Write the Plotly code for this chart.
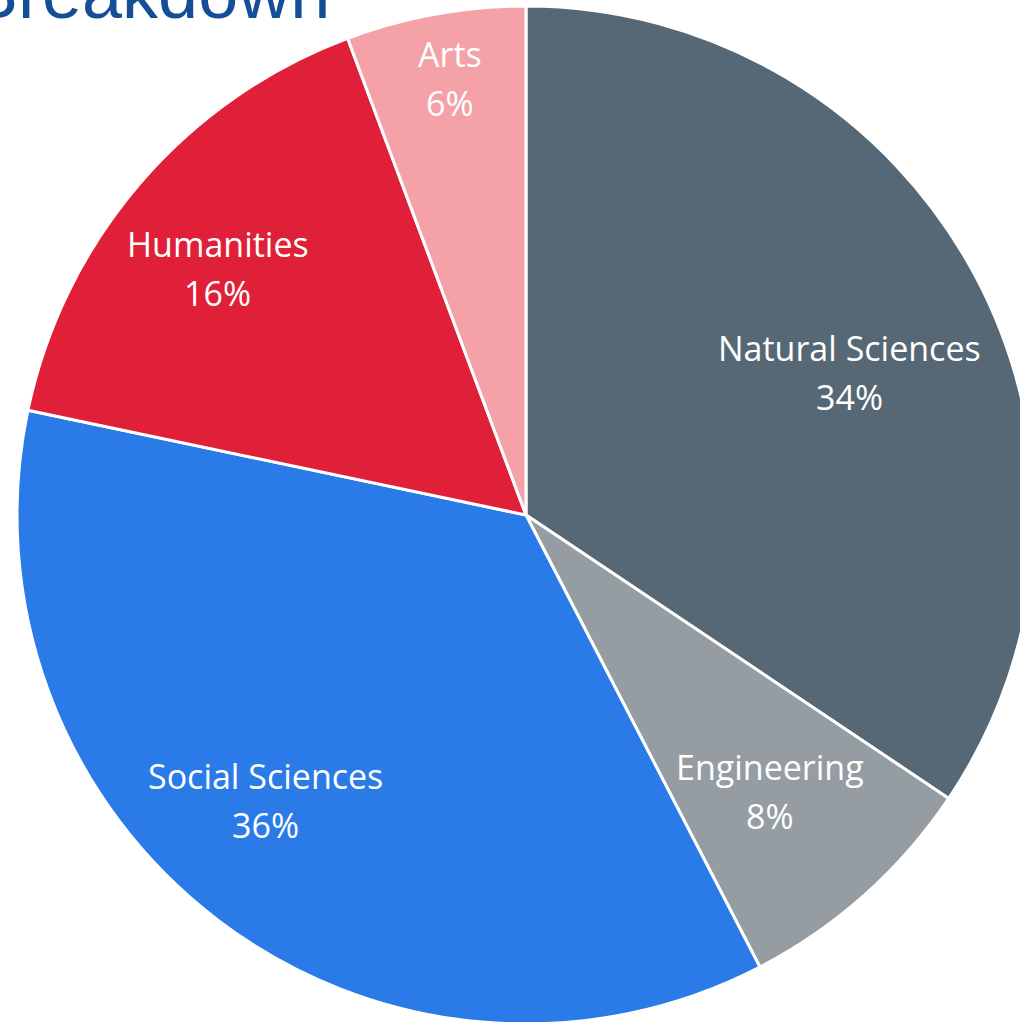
import math
import plotly.graph_objects as go

# ---- data ----
categories = ["Natural Sciences", "Engineering", "Social Sciences", "Humanities", "Arts"]
shares = [34.4, 8.0, 35.9, 16.0, 5.7]
title_text = "Breakdown"

# ---- style ----
colors = ["#566875", "#959DA2", "#2A7BE8", "#E02039", "#F4A2A8"]
label_radius = [0.695, 0.724, 0.759, 0.776, 0.87]
label_angle_offset = [4.3, 0.3, 5.2, -2.0, 0.4]  # degrees
line_gap = 49
label_size = 34

W, H = 1100, 1060
cx, cy, R = 526, 515, 509  # pixel centre/radius on page (from top-left)

fig = go.Figure(go.Pie(
    labels=categories,
    values=shares,
    sort=False,
    direction="clockwise",
    rotation=0,
    marker=dict(colors=colors, line=dict(color="white", width=3)),
    textinfo="none",
    hoverinfo="label+percent",
    showlegend=False,
    domain=dict(x=[(cx - R) / W, (cx + R) / W],
                y=[(H - (cy + R)) / H, (H - (cy - R)) / H]),
))

total = sum(shares)
cum = 0
annotations = []
for name, v, rr, off in zip(categories, shares, label_radius, label_angle_offset):
    mid = math.radians((cum + v / 2) / total * 360 + off)
    cum += v
    px = cx + R * rr * math.sin(mid)
    py = cy - R * rr * math.cos(mid)
    for txt, dy in ((name, -line_gap / 2), (f"{round(v / total * 100)}%", line_gap / 2)):
        annotations.append(dict(
            x=px / W, y=(H - (py + dy)) / H, xref="paper", yref="paper",
            text=txt, showarrow=False, xanchor="center", yanchor="middle",
            font=dict(family="Open Sans", size=label_size, color="white"),
        ))

annotations.append(dict(
    x=332 / W, y=(H - 35) / H, xref="paper", yref="paper",
    text=title_text, showarrow=False, xanchor="right", yanchor="bottom",
    font=dict(family="Liberation Sans, Arial", size=72, color="#134E96"),
))

fig.update_layout(
    width=W, height=H,
    margin=dict(l=0, r=0, t=0, b=0),
    paper_bgcolor="white", plot_bgcolor="white",
    annotations=annotations,
)

fig.write_html("out.html", post_script=(
    "document.documentElement.style.overflow='hidden';"
    "document.body.style.overflow='hidden';"
    "document.body.style.margin='0';"
))
